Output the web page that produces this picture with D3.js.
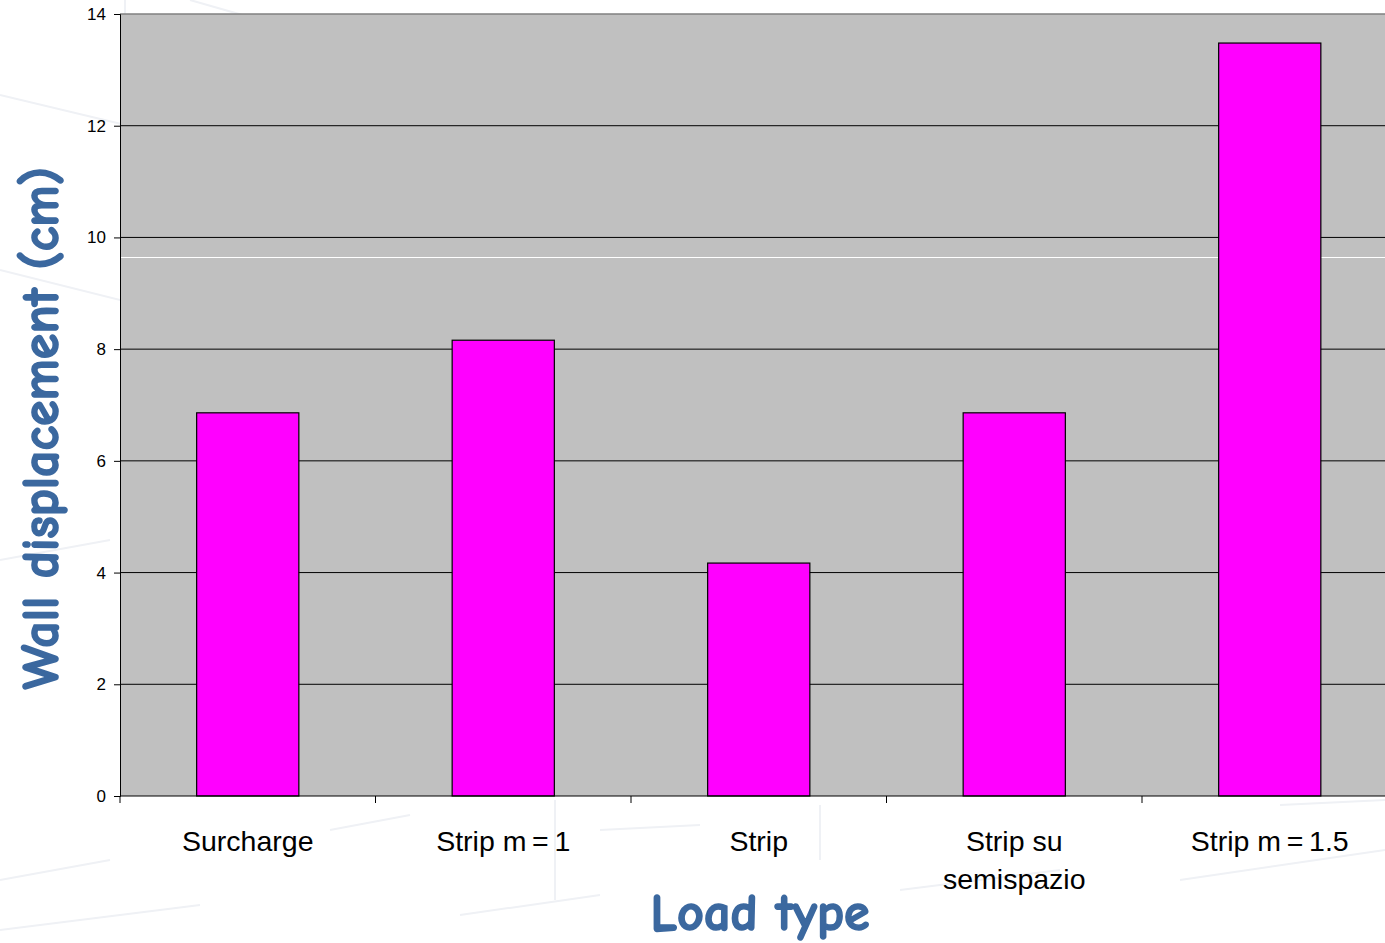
<!DOCTYPE html>
<html>
<head>
<meta charset="utf-8">
<script src="https://cdn.jsdelivr.net/npm/d3@7"></script>
<style>
  html, body { margin: 0; padding: 0; background: #ffffff; }
  svg { display: block; }
</style>
</head>
<body>
<svg id="chart" width="1385" height="943"></svg>
<script>
// Load types and computed wall displacement (cm)
const categories = ["Surcharge", "Strip m = 1", "Strip", "Strip su semispazio", "Strip m = 1.5"];
const labelLines = [["Surcharge"], ["Strip m\u2009=\u20091"], ["Strip"], ["Strip su", "semispazio"], ["Strip m\u2009=\u20091.5"]];
const displacement = [6.86, 8.16, 4.17, 6.86, 13.48];
const yTicks = [0, 2, 4, 6, 8, 10, 12, 14];

const svg = d3.select("#chart");
const plot = { left: 120, top: 14, right: 1397.5, bottom: 796 };

// faint sketched brickwork behind the chart
const sketch = svg.append("g").attr("stroke", "#eff1f5").attr("fill", "none").attr("stroke-width", 2);
const sketchLines = [
  [[0, 95], [230, 150]], [[0, 270], [360, 360]], [[125, 0], [122, 560]],
  [[0, 560], [110, 540]], [[0, 880], [110, 860]], [[0, 930], [200, 905]],
  [[460, 915], [600, 895]], [[330, 830], [410, 815]], [[900, 890], [1060, 870]],
  [[1180, 880], [1385, 850]], [[1280, 805], [1385, 800]], [[820, 805], [820, 860]],
  [[555, 800], [555, 900]], [[190, 0], [260, 20]], [[600, 830], [700, 825]]
];
sketchLines.forEach(l => sketch.append("line")
  .attr("x1", l[0][0]).attr("y1", l[0][1]).attr("x2", l[1][0]).attr("y2", l[1][1]));

const x = d3.scaleBand().domain(categories).range([plot.left, plot.right]).paddingInner(0.6).paddingOuter(0.3);
const y = d3.scaleLinear().domain([0, 14]).range([plot.bottom, plot.top]);

// plot area
svg.append("rect")
  .attr("x", plot.left).attr("y", plot.top)
  .attr("width", plot.right - plot.left).attr("height", plot.bottom - plot.top)
  .attr("fill", "#c0c0c0");

// horizontal gridlines
svg.append("g").selectAll("line").data(yTicks.filter(t => t > 0 && t < 14)).join("line")
  .attr("x1", plot.left).attr("x2", plot.right)
  .attr("y1", d => y(d)).attr("y2", d => y(d))
  .attr("stroke", "#000").attr("stroke-width", 1);

// thin white rule across the plot
svg.append("line")
  .attr("x1", plot.left).attr("x2", plot.right)
  .attr("y1", 257.5).attr("y2", 257.5)
  .attr("stroke", "#ffffff").attr("stroke-width", 1);

// top border
svg.append("line")
  .attr("x1", plot.left).attr("x2", plot.right)
  .attr("y1", plot.top).attr("y2", plot.top)
  .attr("stroke", "#808080").attr("stroke-width", 1.5);

// bars
svg.append("g").selectAll("rect").data(displacement).join("rect")
  .attr("x", (d, i) => x(categories[i]))
  .attr("y", d => y(d))
  .attr("width", x.bandwidth())
  .attr("height", d => y(0) - y(d))
  .attr("fill", "#ff00ff")
  .attr("stroke", "#000").attr("stroke-width", 1.2);

// y axis
const yAxis = svg.append("g")
  .attr("transform", `translate(${plot.left},0)`)
  .call(d3.axisLeft(y).tickValues(yTicks).tickSize(6).tickPadding(8).tickFormat(d3.format("d")));
yAxis.selectAll("text").attr("font-family", "Liberation Sans, Arial, sans-serif").attr("font-size", 17).attr("fill", "#000");
yAxis.selectAll("line, path").attr("stroke", "#000");

// x axis: baseline with ticks at category boundaries
const xAxis = svg.append("g");
xAxis.append("line")
  .attr("x1", plot.left).attr("x2", plot.right)
  .attr("y1", plot.bottom).attr("y2", plot.bottom)
  .attr("stroke", "#000").attr("stroke-width", 1);
const step = x.step();
xAxis.selectAll("line.tick").data(d3.range(categories.length + 1)).join("line")
  .attr("class", "tick")
  .attr("x1", i => plot.left + i * step).attr("x2", i => plot.left + i * step)
  .attr("y1", plot.bottom).attr("y2", plot.bottom + 7)
  .attr("stroke", "#000");

// category labels
const lbl = xAxis.selectAll("text").data(categories).join("text")
  .attr("x", d => x(d) + x.bandwidth() / 2)
  .attr("y", 851)
  .attr("text-anchor", "middle")
  .attr("font-family", "Liberation Sans, Arial, sans-serif")
  .attr("font-size", 28.5)
  .attr("fill", "#000");
lbl.each(function(d, i) {
  const t = d3.select(this);
  labelLines[i].forEach((s, k) => t.append("tspan")
    .attr("x", x(d) + x.bandwidth() / 2)
    .attr("dy", k === 0 ? 0 : 38)
    .text(s));
});

// axis titles
const titleFont = "'Comic Sans MS', 'Comic Neue', 'DejaVu Sans', sans-serif";
svg.append("text")
  .attr("x", 760).attr("y", 930)
  .attr("text-anchor", "middle")
  .attr("font-family", titleFont).attr("font-weight", "bold")
  .attr("font-size", 52).attr("fill", "#3b689f")
  .attr("stroke", "#3b689f").attr("stroke-width", 1.6)
  .text("Load type");

svg.append("text")
  .attr("transform", "translate(58,428) rotate(-90)")
  .attr("text-anchor", "middle")
  .attr("font-family", titleFont).attr("font-weight", "bold")
  .attr("font-size", 52).attr("fill", "#3b689f")
  .attr("stroke", "#3b689f").attr("stroke-width", 1.6)
  .text("Wall displacement (cm)");
</script>
</body>
</html>
